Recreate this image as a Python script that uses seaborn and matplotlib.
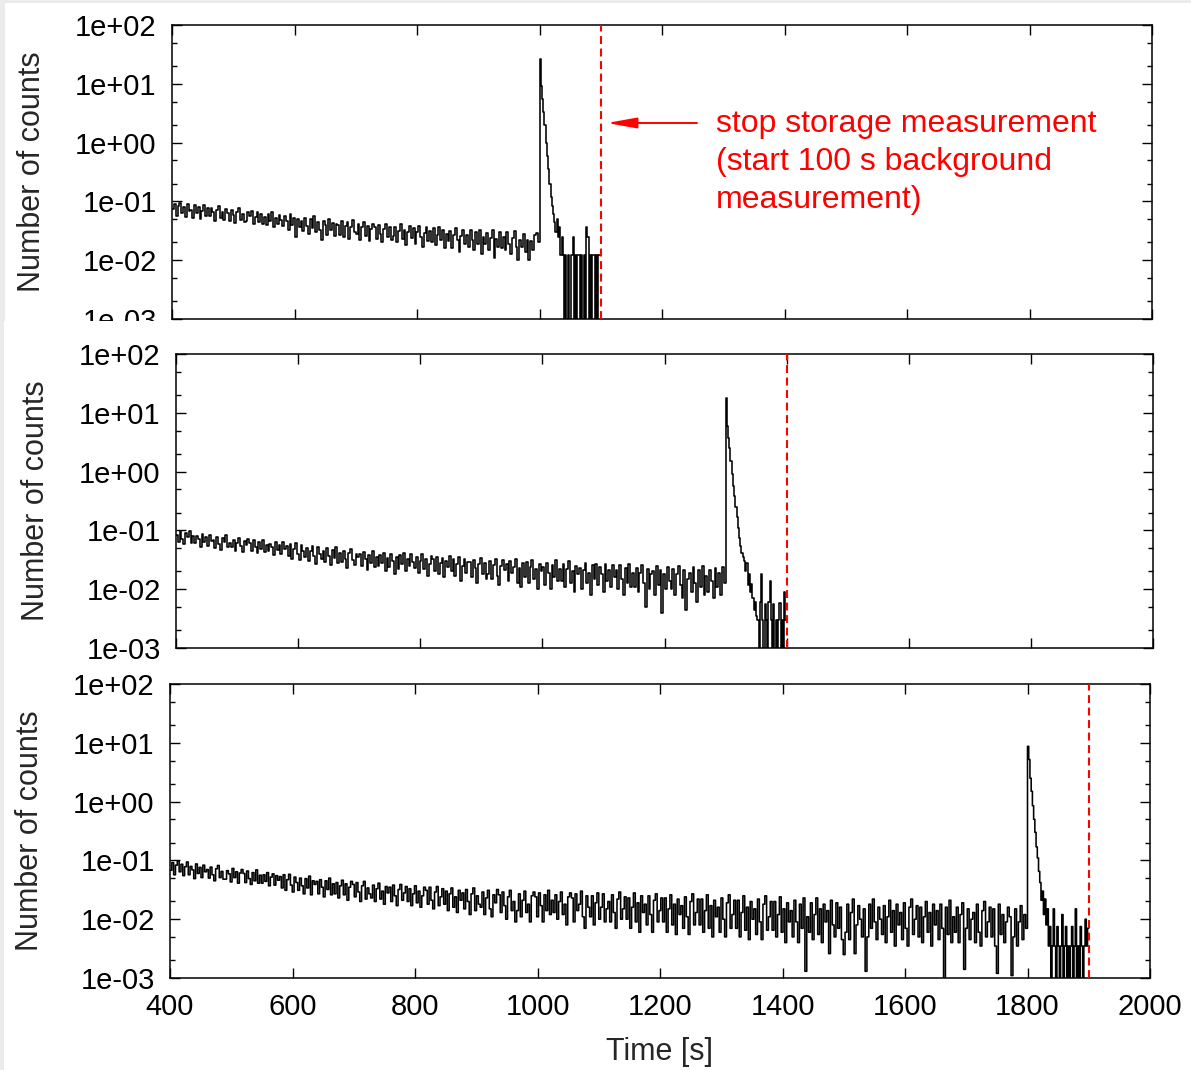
import numpy as np
import pandas as pd
import matplotlib
matplotlib.use("Agg")
import matplotlib.pyplot as plt
from matplotlib.ticker import FixedLocator, LogLocator, NullFormatter, FuncFormatter
from matplotlib.patches import Rectangle
import seaborn as sns

# ---------------- data ----------------
T_START = 400                     # s, first bin of every run
peak_times = [1000, 1300, 1800]   # s, start of the emptying peak
stop_times = [1100, 1400, 1900]   # s, stop storage measurement
BG_UNIT = 1e-3                    # background values are given in units of 1e-3

# run 1 : background 400-1000 s (~3 s bins), then peak 1000-1100 s (2 s bins)
bg1 = [75, 92, 56, 84, 95, 63, 80, 55, 89, 69,
       72, 52, 86, 63, 80, 50, 70, 88, 57, 77,
       56, 78, 65, 47, 71, 82, 52, 67, 48, 74,
       64, 47, 72, 58, 43, 67, 76, 49, 62, 45,
       47, 65, 56, 70, 41, 55, 67, 44, 61, 42,
       55, 39, 61, 46, 65, 37, 53, 42, 59, 48,
       38, 57, 47, 32, 61, 40, 52, 25, 50, 36,
       47, 31, 53, 38, 28, 50, 35, 56, 30, 44,
       33, 22, 46, 39, 27, 50, 32, 43, 26, 41,
       40, 27, 47, 25, 38, 44, 23, 36, 49, 30,
       28, 41, 22, 36, 44, 26, 38, 21, 34, 42,
       36, 23, 40, 28, 20, 34, 42, 25, 37, 22,
       26, 37, 20, 31, 41, 23, 33, 18, 30, 38,
       24, 35, 19, 30, 38, 25, 17, 29, 36, 21,
       31, 20, 35, 18, 27, 37, 22, 33, 16, 28,
       21, 31, 16, 27, 35, 22, 14, 26, 33, 19,
       27, 17, 33, 22, 15, 30, 19, 32, 13, 25,
       19, 29, 15, 24, 32, 11, 23, 17, 30, 16,
       25, 15, 30, 19, 13, 24, 31, 17, 10, 22,
       17, 28, 14, 22, 10, 21, 15, 27, 29, 20]
pk1 = [26, 9.0, 5.5, 3.3, 2.0, 1.0, 0.6, 0.36, 0.2, 0.12,
       0.085, 0.06, 0.045, 0.03, 0.05, 0.025, 0.037, 0.0125, 0.025, 0.0125,
       0, 0.0125, 0, 0.0125, 0, 0, 0.0125, 0.025, 0, 0.0125,
       0, 0.0125, 0.0125, 0, 0.0125, 0, 0.0125, 0, 0.037, 0.025,
       0, 0.0125, 0, 0.0125, 0.0125, 0, 0.0125, 0, 0.0125, 0.0125]

# run 2 : background 400-1300 s, peak 1300-1400 s
bg2 = [83, 63, 96, 72, 58, 91, 78, 99, 60, 81,
       60, 81, 72, 52, 88, 64, 77, 54, 85, 67,
       69, 51, 78, 58, 47, 73, 64, 82, 52, 61,
       52, 68, 45, 61, 74, 54, 43, 67, 56, 71,
       60, 45, 68, 52, 41, 63, 49, 70, 43, 57,
       44, 59, 53, 38, 63, 46, 57, 40, 64, 48,
       54, 36, 58, 33, 48, 61, 40, 31, 56, 44,
       35, 50, 30, 45, 55, 37, 27, 52, 40, 33,
       45, 29, 50, 37, 26, 47, 34, 53, 28, 41,
       29, 44, 33, 23, 42, 48, 31, 26, 39, 35,
       40, 25, 43, 32, 21, 38, 28, 45, 24, 35,
       25, 38, 28, 41, 20, 34, 24, 40, 30, 18,
       35, 22, 38, 27, 41, 20, 32, 25, 39, 29,
       23, 35, 19, 30, 39, 22, 32, 17, 27, 36,
       32, 20, 35, 18, 28, 34, 16, 30, 24, 37,
       20, 32, 17, 27, 35, 14, 25, 33, 19, 29,
       29, 16, 31, 23, 13, 27, 34, 18, 28, 15,
       18, 30, 15, 26, 33, 17, 12, 25, 31, 21,
       27, 14, 30, 19, 24, 32, 13, 23, 11, 28,
       16, 29, 13, 24, 31, 15, 22, 10, 27, 20,
       24, 12, 28, 19, 10, 26, 16, 31, 14, 22,
       14, 27, 11, 22, 30, 13, 20, 9, 25, 18,
       23, 10, 21, 28, 13, 19, 8, 26, 15, 27,
       12, 24, 18, 9, 27, 14, 21, 11, 26, 16,
       21, 10, 26, 15, 8, 23, 13, 27, 11, 19,
       11, 23, 9, 19, 26, 13, 5, 22, 10, 18,
       20, 8, 25, 12, 21, 4, 18, 10, 24, 14,
       10, 22, 8, 18, 25, 12, 7, 21, 4.5, 15,
       19, 9, 24, 13, 6, 21, 11, 25, 8, 17,
       9, 21, 14, 7, 23, 11, 19, 8, 24, 13]
pk2 = [17.7, 5.9, 3.8, 2.5, 1.5, 0.9, 0.56, 0.38, 0.25, 0.17,
       0.11, 0.075, 0.055, 0.042, 0.035, 0.03, 0.02, 0.028, 0.012, 0.018,
       0.009, 0.0125, 0.007, 0.0045, 0.006, 0.0035, 0.003, 0, 0.006, 0.018,
       0.003, 0, 0.0055, 0.003, 0, 0.006, 0.014, 0.003, 0, 0.0055,
       0, 0.003, 0, 0.003, 0.0058, 0, 0.003, 0, 0.009, 0.003]

# run 3 : background 400-1800 s, peak 1800-1900 s
bg3 = [68, 92, 57, 83, 98, 64, 86, 55, 78, 94,
       57, 79, 69, 49, 87, 60, 76, 51, 83, 64,
       70, 50, 77, 57, 45, 72, 82, 51, 65, 48,
       48, 67, 59, 43, 73, 51, 64, 41, 61, 70,
       60, 42, 66, 49, 39, 62, 45, 69, 41, 56,
       41, 57, 44, 62, 37, 52, 59, 38, 55, 46,
       53, 34, 57, 31, 47, 58, 38, 29, 52, 42,
       31, 50, 37, 27, 49, 34, 54, 26, 45, 39,
       44, 27, 47, 35, 24, 45, 32, 50, 26, 40,
       27, 42, 23, 37, 46, 26, 40, 21, 35, 44,
       39, 24, 42, 29, 20, 37, 44, 22, 34, 27,
       23, 38, 20, 33, 41, 22, 30, 18, 36, 28,
       35, 20, 38, 25, 17, 32, 39, 21, 28, 36,
       20, 33, 17, 27, 37, 19, 30, 16, 25, 35,
       31, 18, 35, 21, 15, 29, 36, 17, 24, 33,
       18, 30, 14, 27, 34, 16, 24, 13, 31, 21,
       28, 15, 32, 20, 12, 27, 34, 14, 25, 18,
       16, 29, 12, 23, 31, 15, 11, 26, 19, 32,
       26, 13, 29, 17, 10, 24, 31, 14, 20, 9,
       14, 27, 11, 21, 30, 13, 18, 9, 25, 29,
       24, 11, 28, 17, 9, 26, 14, 31, 12, 21,
       13, 26, 10, 20, 29, 12, 18, 8, 24, 28,
       23, 9, 27, 14, 18, 30, 11, 7, 25, 16,
       11, 25, 8, 19, 28, 10, 16, 27, 9, 15,
       20, 9, 26, 13, 7, 22, 29, 10, 15, 24,
       10, 23, 7, 16, 28, 9, 19, 6, 25, 13,
       18, 8, 25, 12, 6, 21, 27, 9, 14, 23,
       9, 23, 6, 15, 26, 8, 18, 5.5, 22, 12,
       17, 7, 24, 11, 5.5, 20, 27, 8, 13, 22,
       8, 22, 6, 14, 26, 7, 17, 5, 21, 11,
       16, 6, 23, 10, 5, 19, 26, 7, 12, 21,
       7, 21, 5, 13, 25, 6.5, 16, 4.5, 20, 10,
       15, 5.5, 22, 9, 4.5, 18, 25, 6.5, 11, 20,
       6.5, 20, 5, 12, 24, 6, 15, 4, 19, 9,
       14, 5, 21, 9, 4, 18, 7, 23, 1.3, 11,
       6, 19, 4.5, 12, 23, 5.5, 15, 4, 18, 9,
       14, 2.6, 21, 8, 5, 19, 7, 16, 4.5, 2.5,
       6, 18, 4.5, 13, 22, 2.6, 8, 17, 10, 5,
       15, 1.3, 5, 18, 7, 22, 9, 4.5, 16, 10,
       5.5, 17, 4, 11, 21, 6, 14, 3.5, 18, 8,
       13, 4.5, 19, 7, 3.5, 16, 22, 5.5, 10, 17,
       5, 16, 4, 11, 20, 6, 13, 3.5, 18, 8,
       14, 4.5, 18, 7, 0, 16, 5.5, 21, 4, 11,
       6, 16, 4, 12, 19, 1.4, 7, 15, 4.5, 10,
       13, 4, 18, 6, 3.5, 14, 20, 5, 9, 16,
       5, 15, 3.5, 1.2, 18, 5.5, 12, 4, 9, 16,
       11, 1.1, 5, 15, 3.5, 9, 17, 4.5, 12, 7]
pk3 = [8.7, 5.2, 2.5, 1.5, 0.85, 0.5, 0.3, 0.17, 0.11, 0.065,
       0.042, 0.021, 0.03, 0.012, 0.022, 0.008, 0.015, 0.0035, 0.0075, 0,
       0.0035, 0.015, 0.0035, 0, 0.0075, 0.0035, 0, 0.0035, 0.012, 0,
       0.0035, 0.0075, 0, 0.0035, 0, 0.0035, 0.0075, 0, 0.0035, 0.015,
       0, 0.0035, 0, 0.0075, 0.0035, 0, 0.0035, 0.01, 0.0035, 0.007]

x_ticks = [400, 600, 800, 1000, 1200, 1400, 1600, 1800, 2000]
y_ticks = [1e-3, 1e-2, 1e-1, 1e0, 1e1, 1e2]
y_label = "Number of counts"
x_label = "Time [s]"
note_lines = ["stop storage measurement", "(start 100 s background", "measurement)"]

# ---------------- helpers ----------------
def run_frame(bg, pk, t_peak, t_stop):
    n, m = len(bg), len(pk)
    t_bg = T_START + (t_peak - T_START) * np.arange(n) / n
    t_pk = t_peak + (t_stop - t_peak) * np.arange(m) / m
    t = np.concatenate([t_bg, t_pk, [t_stop]])
    v = np.concatenate([np.asarray(bg, float) * BG_UNIT, np.asarray(pk, float), [pk[-1]]])
    v = np.where(v > 0, v, 1e-6)      # zero counts drop below the axis (log scale)
    return pd.DataFrame({"t": t, "v": v})

runs = [(bg1, pk1), (bg2, pk2), (bg3, pk3)]

# ---------------- figure ----------------
sns.set_style("ticks")
plt.rcParams["font.family"] = ["Liberation Sans", "DejaVu Sans"]
W, H = 1191, 1070
fig = plt.figure(figsize=(W / 100, H / 100), dpi=100, facecolor="#ebebeb")
fig.patches.append(Rectangle((5 / W, 0), 1 - 5 / W, 1 - 3 / H, transform=fig.transFigure,
                             facecolor="white", edgecolor="none", zorder=-5))
# lower picture sheet covers the bottom of the top panel's tick labels
fig.patches.append(Rectangle((4 / W, 0), 1 - 4 / W, 1 - 321 / H, transform=fig.transFigure,
                             facecolor="white", edgecolor="none", zorder=1))

boxes = [(172, 1152, 25, 319), (176, 1153, 354, 648), (170, 1150, 684, 978)]
axes = []
for i, (l, r, t, b) in enumerate(boxes):
    ax = fig.add_axes([l / W, 1 - b / H, (r - l) / W, (b - t) / H])
    ax.set_zorder(0 if i == 0 else 2)
    axes.append(ax)

for i, (ax, (bg, pk)) in enumerate(zip(axes, runs)):
    df = run_frame(bg, pk, peak_times[i], stop_times[i])
    sns.lineplot(data=df, x="t", y="v", ax=ax, color="black", linewidth=1.15,
                 drawstyle="steps-post", estimator=None, sort=False)
    ax.set_yscale("log")
    ax.set_xlim(400, 2000)
    ax.set_ylim(1e-3, 1e2)
    ax.axvline(stop_times[i], color="#ff0000", linewidth=1.5, linestyle=(0, (3.8, 2.2)), zorder=3)

    ax.yaxis.set_major_locator(FixedLocator(y_ticks))
    ax.yaxis.set_minor_locator(LogLocator(base=10, subs=(2.0, 5.0)))
    ax.yaxis.set_minor_formatter(NullFormatter())
    ax.yaxis.set_major_formatter(FuncFormatter(lambda v, p: f"{v:.0e}"))
    ax.xaxis.set_major_locator(FixedLocator(x_ticks))
    ax.tick_params(axis="both", which="both", direction="in", top=True, right=True,
                   labelsize=21, pad=11, colors="black")
    ax.tick_params(which="major", length=7, width=1.0)
    ax.tick_params(which="minor", length=3.6, width=1.0)
    if i < 2:
        ax.tick_params(axis="x", labelbottom=False)
        ax.set_xlabel("")
    else:
        ax.set_xlabel(x_label, fontsize=22)
        ax.xaxis.set_label_coords(0.5, -0.2)
        ax.xaxis.label.set_va("top")
    ax.set_ylabel(y_label, fontsize=22)
    ax.yaxis.set_label_coords(-0.128, 0.5)
    for s in ax.spines.values():
        s.set_linewidth(1.1)
        s.set_color("black")
    ax.set_facecolor("white")

# annotation in the top panel
ann_y = 1 - 123 / H
axes[0].annotate("", xy=(607 / W, ann_y), xytext=(697 / W, ann_y),
                 xycoords="figure fraction", textcoords="figure fraction",
                 arrowprops=dict(arrowstyle="-|>,head_length=1.0,head_width=0.18",
                                 mutation_scale=18, color="#ff0000", lw=1.4,
                                 shrinkA=0, shrinkB=0))
for k, line in enumerate(note_lines):
    fig.text(716 / W, 1 - (132 + 38 * k) / H, line, color="#ff0000", fontsize=23,
             ha="left", va="baseline", zorder=5)

fig.savefig("out.png", dpi=100, facecolor=fig.get_facecolor())
